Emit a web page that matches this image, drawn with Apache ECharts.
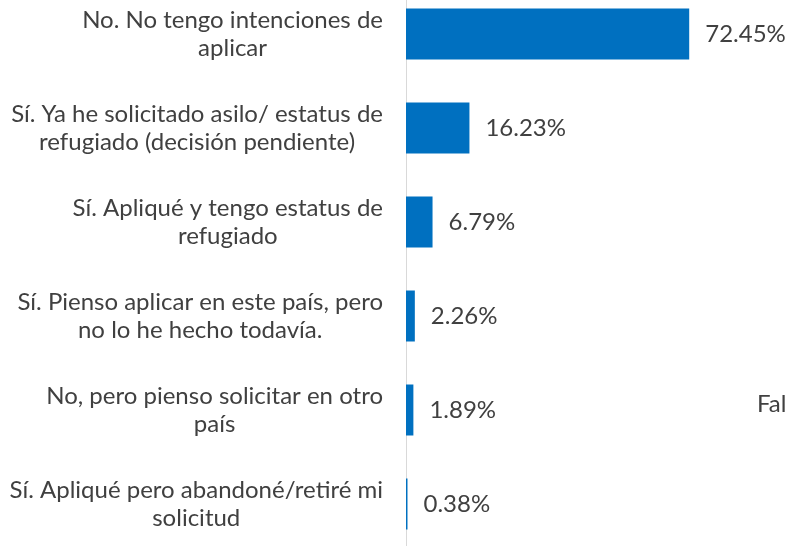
<!DOCTYPE html>
<html>
<head>
<meta charset="utf-8">
<script src="https://cdn.jsdelivr.net/npm/echarts@6/dist/echarts.min.js"></script>
<style>
  html, body { margin: 0; padding: 0; background: #fff; }
  #main { width: 788px; height: 546px; }
</style>
</head>
<body>
<div id="main"></div>
<script>
// respuestas (de arriba a abajo), con el salto de línea del original
var categorias = [
  'No. No tengo intenciones de\naplicar',
  'Sí. Ya he solicitado asilo/ estatus de\nrefugiado (decisión pendiente)',
  'Sí. Apliqué y tengo estatus de\nrefugiado',
  'Sí. Pienso aplicar en este país, pero\nno lo he hecho todavía.',
  'No, pero pienso solicitar en otro\npaís',
  'Sí. Apliqué pero abandoné/retiré mi\nsolicitud'
];
var porcentajes = [72.45, 16.23, 6.79, 2.26, 1.89, 0.38];
var leyenda = 'Fal';

var chart = echarts.init(document.getElementById('main'));

var option = {
  animation: false,
  textStyle: { fontFamily: 'Lato' },
  title: {
    text: leyenda,
    left: 752,
    top: 387,
    textStyle: { fontFamily: 'Lato', fontSize: 24, fontWeight: 'normal', color: '#404040' }
  },
  grid: {
    left: 406, right: 38, top: -13, bottom: -5,
    containLabel: false,
    outerBoundsMode: 'none'
  },
  xAxis: {
    type: 'value',
    min: 0,
    max: 88,
    show: false
  },
  yAxis: {
    type: 'category',
    inverse: true,
    data: categorias,
    axisLine: { show: true, lineStyle: { color: '#d9d9d9', width: 1 } },
    axisTick: { show: false },
    axisLabel: {
      margin: 23,
      formatter: function (v) {
        // cada línea centrada dentro del bloque
        return v.split('\n').map(function (l) { return '{c|' + l + '}'; }).join('\n');
      },
      rich: {
        c: { align: 'center', fontFamily: 'Lato', fontSize: 24, lineHeight: 28, color: '#404040' }
      }
    }
  },
  series: [{
    type: 'bar',
    data: porcentajes,
    barWidth: 51,
    itemStyle: { color: '#0070C0' },
    label: {
      show: true,
      position: 'right',
      distance: 16,
      fontFamily: 'Lato',
      fontSize: 24,
      color: '#404040',
      formatter: function (p) { return p.value.toFixed(2) + '%'; }
    }
  }]
};

chart.setOption(option);
</script>
</body>
</html>
